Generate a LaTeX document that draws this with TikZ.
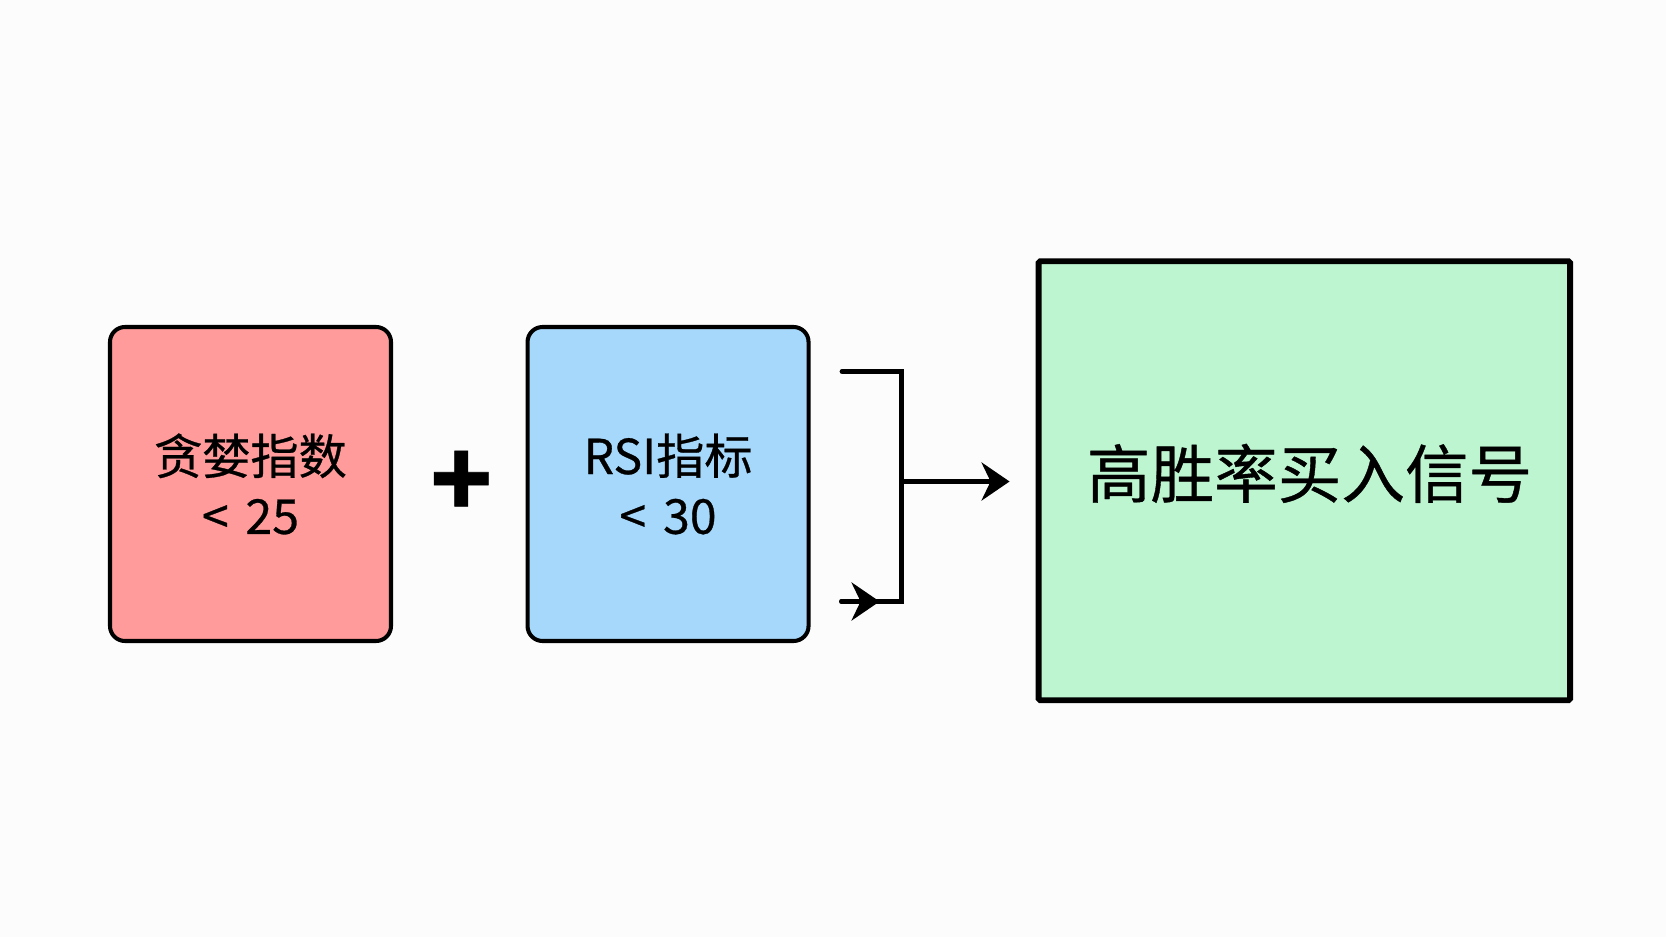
\documentclass[tikz,border=0pt]{standalone}
\usepackage{fontspec}
\newfontfamily\cjk[FakeBold=0.6]{Noto Sans CJK SC}
\usetikzlibrary{arrows.meta,positioning,calc}
\definecolor{pagebg}{RGB}{252, 252, 252}
\definecolor{greedred}{RGB}{255, 155, 155}
\definecolor{rsiblue}{RGB}{165, 216, 250}
\definecolor{signalgreen}{RGB}{189, 245, 208}

\begin{document}
\begin{tikzpicture}[
  >={Stealth[length=0.56cm, width=0.76cm, inset=0.18cm]},
  node distance=2.65cm and 2.65cm,
  cond/.style={
    draw=black,
    line width=2.3pt,
    rounded corners=0.3cm,
    minimum width=5.62cm,
    minimum height=6.28cm,
    align=center,
    font=\cjk\fontsize{27.4}{34}\selectfont
  },
  signal/.style={
    draw=black,
    fill=signalgreen,
    line width=3.4pt,
    rounded corners=1pt,
    minimum width=10.63cm,
    minimum height=8.78cm,
    text depth=0.4cm,
    align=center,
    font=\cjk\fontsize{36.2}{42}\selectfont
  },
  flow/.style={line width=2.8pt, line cap=round}
]

  % page
  \fill[pagebg] (0,0) rectangle (33.32,-18.74);

  % two conditions
  \node[cond, fill=greedred] (greed) at (5.01,-9.68) {贪婪指数\\<\hspace{0.35em}25};
  \node[cond, fill=rsiblue, right=of greed] (rsi) {RSI指标\\<\hspace{0.35em}30};
  \node[font=\cjk\bfseries\fontsize{58}{58}\selectfont, xshift=0.04cm] (plus) at ($(greed.east)!0.5!(rsi.west)$) {+};

  % result
  \node[signal, right=4.5cm of rsi, yshift=0.065cm] (signal) {\hspace{0.21cm}高胜率买入信号};

  % bracket joining both conditions
  \coordinate (topin) at ($(rsi.east)+(0.63,2.25)$);
  \coordinate (botin) at ($(rsi.east)+(0.62,-2.35)$);
  \coordinate (botcorner) at ($(rsi.east)+(1.82,-2.35)$);
  \coordinate (botmid) at ($(botin)+(0.76,0)$);
  \coordinate (join) at ($(botcorner)+(0,2.4)$);

  \draw[flow, line join=miter] (topin) -| (botcorner) -- (botin);
  \draw[flow, ->] (botin) -- (botmid);
  \draw[flow, ->, shorten >=0.52cm] (join) -- (join -| signal.west);

\end{tikzpicture}
\end{document}
